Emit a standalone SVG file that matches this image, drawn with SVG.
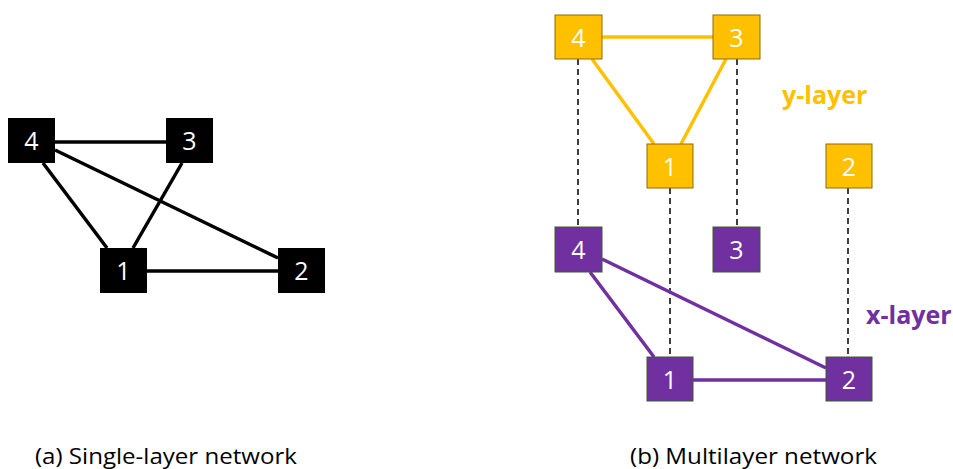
<svg xmlns="http://www.w3.org/2000/svg" width="953" height="469" viewBox="0 0 953 469">
<style>
.lbl{font-family:"Open Sans","Noto Sans",sans-serif;font-size:25px;fill:#fff;text-anchor:middle}
.cap{font-family:"Open Sans","Noto Sans",sans-serif;font-size:22px;fill:#000}
.lay{font-family:"Open Sans","Noto Sans",sans-serif;font-size:25px;font-weight:bold}
.bk{fill:#000}
.yw{fill:#FFC000;stroke:#8F6B00;stroke-width:1}
.pu{fill:#7030A0;stroke:#3F5A30;stroke-width:1}
.eb{stroke:#000;stroke-width:3.5;fill:none}
.ey{stroke:#FFC000;stroke-width:3.5;fill:none}
.ep{stroke:#7030A0;stroke-width:3.5;fill:none}
.dl{stroke:#000;stroke-width:1.5;stroke-dasharray:6,4;fill:none}
</style>
<g id="connectors">
<line class="eb" x1="55" y1="142" x2="166" y2="142"/>
<line class="eb" x1="43" y1="163" x2="107" y2="248"/>
<line class="eb" x1="182" y1="163" x2="133" y2="248"/>
<line class="eb" x1="55" y1="150" x2="278" y2="258"/>
<line class="eb" x1="147" y1="271" x2="278" y2="271"/>
<line class="dl" x1="578" y1="59" x2="578" y2="227"/>
<line class="dl" x1="670" y1="188" x2="670" y2="357"/>
<line class="dl" x1="737" y1="59" x2="737" y2="227"/>
<line class="dl" x1="848" y1="188" x2="848" y2="357"/>
<line class="ey" x1="602" y1="37" x2="713" y2="37"/>
<line class="ey" x1="592" y1="59" x2="654" y2="144"/>
<line class="ey" x1="726" y1="59" x2="681" y2="144"/>
<line class="ep" x1="602" y1="259" x2="826" y2="368"/>
<line class="ep" x1="590" y1="272" x2="654" y2="357"/>
<line class="ep" x1="693" y1="380" x2="826" y2="380"/>
</g>
<g id="a4"><rect class="bk" x="8" y="118" width="47" height="45"/><text class="lbl" x="31.5" y="150">4</text></g>
<g id="a3"><rect class="bk" x="166" y="118" width="47" height="45"/><text class="lbl" x="189.5" y="150">3</text></g>
<g id="a1"><rect class="bk" x="100" y="248" width="47" height="45"/><text class="lbl" x="123.5" y="280">1</text></g>
<g id="a2"><rect class="bk" x="278" y="248" width="47" height="45"/><text class="lbl" x="301.5" y="280">2</text></g>
<g id="y4"><rect class="yw" x="555" y="15" width="47" height="44"/><text class="lbl" x="578.5" y="46.5">4</text></g>
<g id="y3"><rect class="yw" x="713" y="15" width="47" height="44"/><text class="lbl" x="736.5" y="46.5">3</text></g>
<g id="y1"><rect class="yw" x="647" y="144" width="46" height="44"/><text class="lbl" x="670" y="175.5">1</text></g>
<g id="y2"><rect class="yw" x="826" y="144" width="46" height="44"/><text class="lbl" x="849" y="175.5">2</text></g>
<g id="x4"><rect class="pu" x="555" y="227" width="47" height="45"/><text class="lbl" x="578.5" y="259">4</text></g>
<g id="x3"><rect class="pu" x="713" y="227" width="47" height="45"/><text class="lbl" x="736.5" y="259">3</text></g>
<g id="x1"><rect class="pu" x="647" y="357" width="46" height="44"/><text class="lbl" x="670" y="388.5">1</text></g>
<g id="x2"><rect class="pu" x="826" y="357" width="46" height="44"/><text class="lbl" x="849" y="388.5">2</text></g>
<text class="lay" x="782" y="104" fill="#FFC000">y-layer</text>
<text class="lay" x="866" y="324" fill="#7030A0">x-layer</text>
<text class="cap" x="35" y="464" textLength="262" lengthAdjust="spacingAndGlyphs">(a) Single-layer network</text>
<text class="cap" x="630" y="464" textLength="247" lengthAdjust="spacingAndGlyphs">(b) Multilayer network</text>
</svg>
